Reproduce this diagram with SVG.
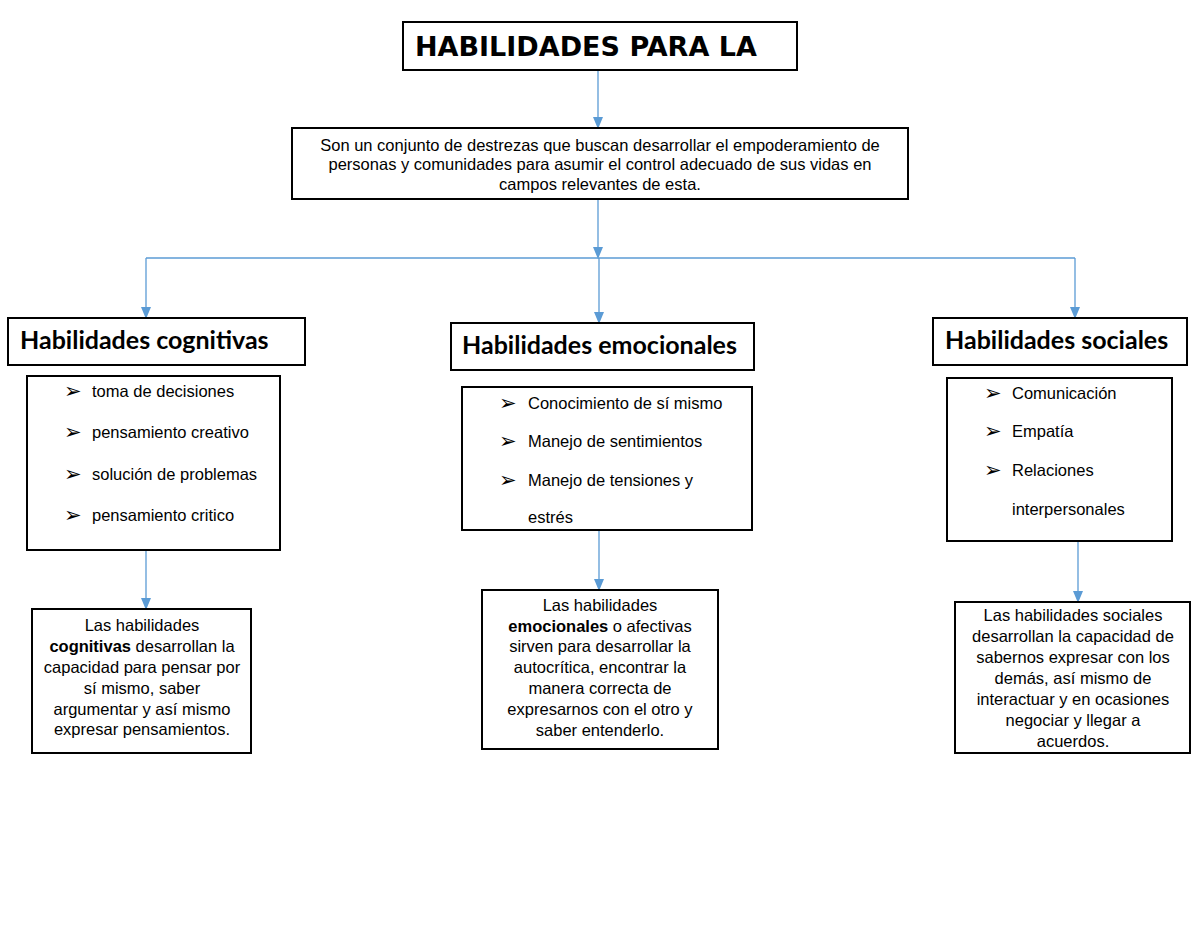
<svg xmlns="http://www.w3.org/2000/svg" width="1200" height="927" viewBox="0 0 1200 927">
<defs>
<marker id="arr" markerUnits="userSpaceOnUse" markerWidth="12" markerHeight="10" refX="10" refY="5" orient="auto" viewBox="0 0 12 10">
<path d="M0,0 L12,5 L0,10 Z" fill="#5B9BD5"/>
</marker>
<style>
.box{fill:#fff;stroke:#000;stroke-width:2}
.con{fill:none;stroke:#5B9BD5;stroke-width:1.3}
.title{font-family:"DejaVu Sans",Verdana,sans-serif;font-weight:bold;font-size:27px;fill:#000}
.head{font-family:Lato,"Open Sans",sans-serif;font-weight:bold;font-size:25px;fill:#000}
.t{font-family:"Liberation Sans",Arial,sans-serif;font-size:16.5px;fill:#000}
.c{text-anchor:middle}
.b{font-family:"DejaVu Sans",sans-serif;font-size:21px;fill:#000}
.bold{font-weight:bold}
</style>
</defs>
<rect width="1200" height="927" fill="#fff"/>
<g id="connectors">
<path class="con" d="M598,70 V127" marker-end="url(#arr)"/>
<path class="con" d="M598,199 V257" marker-end="url(#arr)"/>
<path class="con" d="M146,258 H1075"/>
<path class="con" d="M146,258 V317" marker-end="url(#arr)"/>
<path class="con" d="M599,258 V322" marker-end="url(#arr)"/>
<path class="con" d="M1075,258 V317" marker-end="url(#arr)"/>
<path class="con" d="M146,550 V608" marker-end="url(#arr)"/>
<path class="con" d="M599,530 V589" marker-end="url(#arr)"/>
<path class="con" d="M1078,541 V601" marker-end="url(#arr)"/>
</g>
<g id="title">
<rect class="box" x="403" y="22" width="394" height="48"/>
<text class="title" x="415" y="56">HABILIDADES PARA LA</text>
</g>
<g id="definition">
<rect class="box" x="292" y="128" width="616" height="71"/>
<text class="t c" x="600" y="151">Son un conjunto de destrezas que buscan desarrollar el empoderamiento de</text>
<text class="t c" x="600" y="170">personas y comunidades para asumir el control adecuado de sus vidas en</text>
<text class="t c" x="600" y="190">campos relevantes de esta.</text>
</g>
<g id="cognitive-header">
<rect class="box" x="8" y="318" width="297" height="47"/>
<text class="head" x="20" y="349">Habilidades cognitivas</text>
</g>
<g id="emotional-header">
<rect class="box" x="451" y="323" width="303" height="47"/>
<text class="head" x="462" y="354">Habilidades emocionales</text>
</g>
<g id="social-header">
<rect class="box" x="933" y="318" width="254" height="47"/>
<text class="head" x="945" y="349">Habilidades sociales</text>
</g>
<g id="cognitive-list">
<rect class="box" x="27" y="376" width="253" height="174"/>
<text class="b" x="64" y="398">➢</text><text class="t" x="92" y="397">toma de decisiones</text>
<text class="b" x="64" y="439">➢</text><text class="t" x="92" y="438">pensamiento creativo</text>
<text class="b" x="64" y="481">➢</text><text class="t" x="92" y="480">solución de problemas</text>
<text class="b" x="64" y="522">➢</text><text class="t" x="92" y="521">pensamiento critico</text>
</g>
<g id="emotional-list">
<rect class="box" x="462" y="387" width="290" height="143"/>
<text class="b" x="499" y="410">➢</text><text class="t" x="528" y="409">Conocimiento de sí mismo</text>
<text class="b" x="499" y="448">➢</text><text class="t" x="528" y="447">Manejo de sentimientos</text>
<text class="b" x="499" y="487">➢</text><text class="t" x="528" y="486">Manejo de tensiones y</text>
<text class="t" x="528" y="523">estrés</text>
</g>
<g id="social-list">
<rect class="box" x="947" y="378" width="225" height="163"/>
<text class="b" x="984" y="400">➢</text><text class="t" x="1012" y="399">Comunicación</text>
<text class="b" x="984" y="438">➢</text><text class="t" x="1012" y="437">Empatía</text>
<text class="b" x="984" y="477">➢</text><text class="t" x="1012" y="476">Relaciones</text>
<text class="t" x="1012" y="515">interpersonales</text>
</g>
<g id="cognitive-desc">
<rect class="box" x="32" y="609" width="219" height="144"/>
<text class="t c" x="142" y="631">Las habilidades</text>
<text class="t c" x="142" y="652"><tspan class="bold">cognitivas</tspan> desarrollan la</text>
<text class="t c" x="142" y="673">capacidad para pensar por</text>
<text class="t c" x="142" y="694">sí mismo, saber</text>
<text class="t c" x="142" y="715">argumentar y así mismo</text>
<text class="t c" x="142" y="735">expresar pensamientos.</text>
</g>
<g id="emotional-desc">
<rect class="box" x="482" y="590" width="236" height="159"/>
<text class="t c" x="600" y="611">Las habilidades</text>
<text class="t c" x="600" y="632"><tspan class="bold">emocionales</tspan> o afectivas</text>
<text class="t c" x="600" y="652">sirven para desarrollar la</text>
<text class="t c" x="600" y="673">autocrítica, encontrar la</text>
<text class="t c" x="600" y="694">manera correcta de</text>
<text class="t c" x="600" y="715">expresarnos con el otro y</text>
<text class="t c" x="600" y="736">saber entenderlo.</text>
</g>
<g id="social-desc">
<rect class="box" x="955" y="602" width="235" height="151"/>
<text class="t c" x="1073" y="621">Las habilidades sociales</text>
<text class="t c" x="1073" y="642">desarrollan la capacidad de</text>
<text class="t c" x="1073" y="663">sabernos expresar con los</text>
<text class="t c" x="1073" y="684">demás, así mismo de</text>
<text class="t c" x="1073" y="705">interactuar y en ocasiones</text>
<text class="t c" x="1073" y="726">negociar y llegar a</text>
<text class="t c" x="1073" y="747">acuerdos.</text>
</g>
</svg>
